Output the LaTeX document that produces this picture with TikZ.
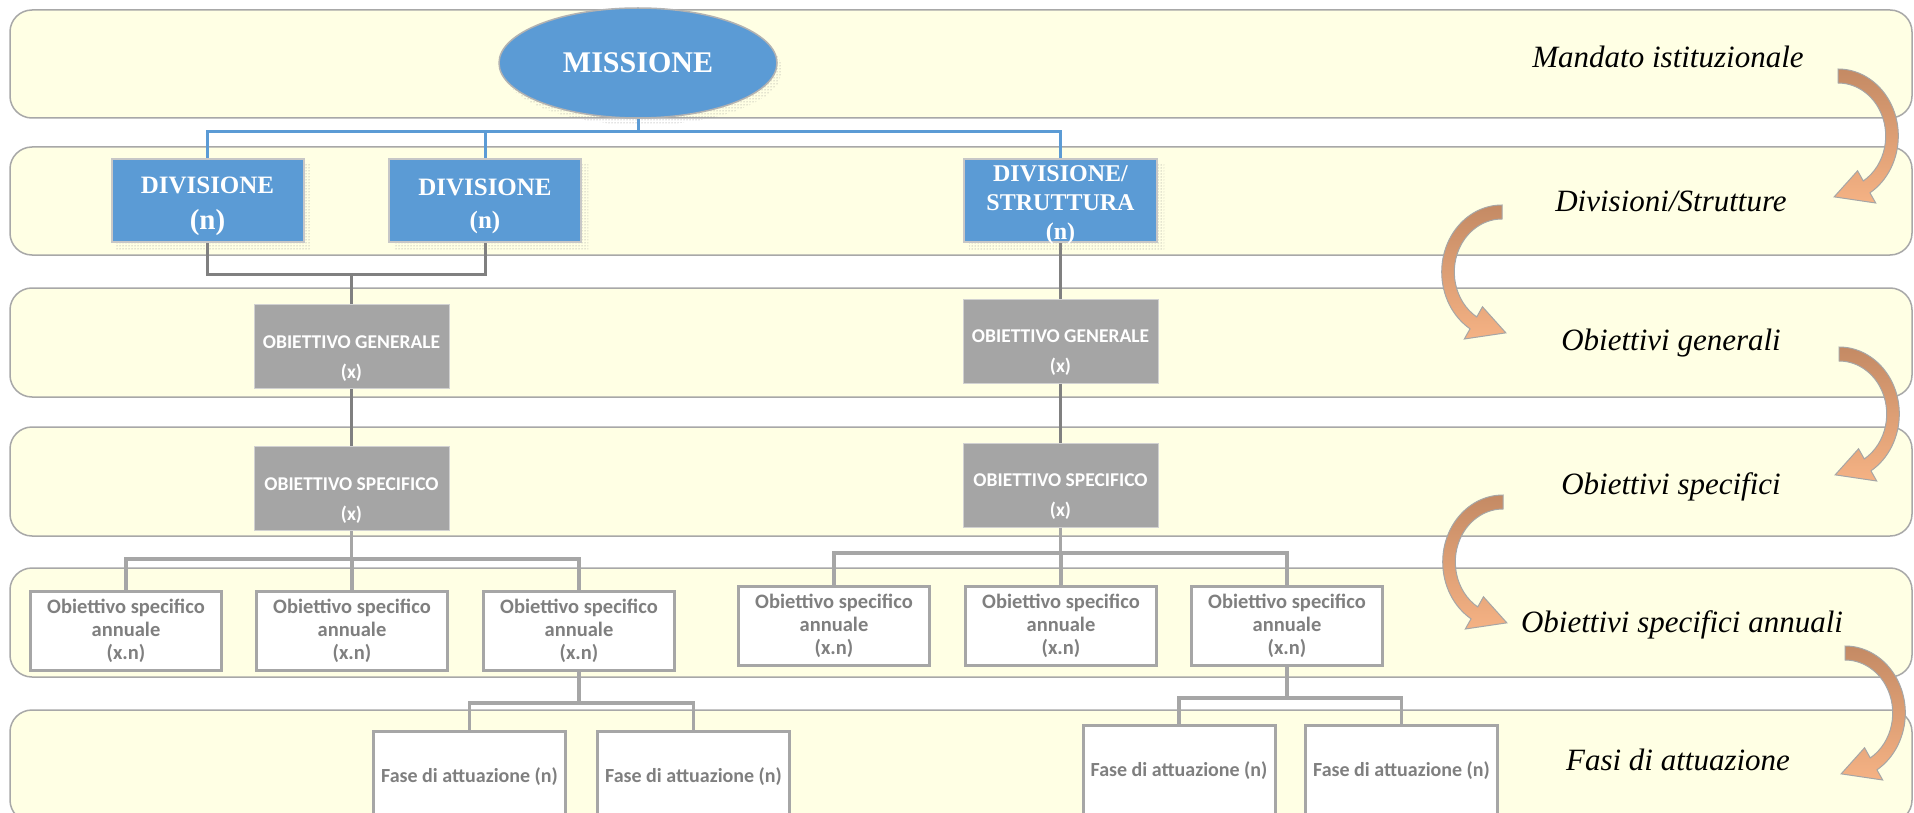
\documentclass[tikz,border=0pt]{standalone}
\usepackage{fontspec}
\setmainfont{Liberation Serif}
\newfontfamily\carlito{Carlito}
\usetikzlibrary{shapes.geometric,patterns}
\definecolor{bandfill}{RGB}{255,255,228}
\definecolor{bandline}{RGB}{168,168,168}
\definecolor{blu}{RGB}{91,155,213}
\definecolor{boxgray}{RGB}{165,165,165}
\definecolor{darkconn}{RGB}{128,128,128}
\definecolor{lightconn}{RGB}{166,166,166}
\definecolor{txtgray}{RGB}{127,127,127}
\definecolor{arrdark}{RGB}{196,138,100}
\definecolor{arrlight}{RGB}{245,178,132}
\pgfdeclarelayer{back}
\pgfdeclarelayer{shad}
\pgfsetlayers{back,shad,main}
\begin{document}
\begin{tikzpicture}[x=1pt,y=1pt,
  band/.style={draw=bandline, line width=1.5pt, fill=bandfill, rounded corners=22pt},
  ellip/.style={ellipse, fill=blu, draw=black!30, line width=1.5pt, text=white,
    minimum width=278pt, minimum height=110pt, inner sep=0pt,
    font=\bfseries\fontsize{30}{36}\selectfont},
  bluebox/.style={rectangle, fill=blu, draw=black!22, line width=2pt,
    inner sep=0pt, minimum height=83pt},
  bluetext/.style={text=white, align=center, inner sep=0pt,
    font=\bfseries\fontsize{25}{30}\selectfont},
  graybox/.style={rectangle, fill=boxgray, draw=black!18, line width=1pt,
    minimum width=195pt, minimum height=84pt, inner sep=0pt},
  graytext/.style={text=white, align=center, inner sep=0pt,
    font=\carlito\bfseries\fontsize{19.5}{30}\selectfont},
  annbox/.style={rectangle, fill=white, draw=lightconn, line width=3pt, text=txtgray,
    align=center, inner sep=0pt, minimum width=191pt, minimum height=79pt,
    font=\carlito\bfseries\fontsize{20.5}{23}\selectfont},
  fasebox/.style={rectangle, fill=white, draw=lightconn, line width=3pt, text=txtgray,
    align=center, inner sep=0pt, minimum width=192pt, minimum height=92pt,
    font=\carlito\bfseries\fontsize{20}{24}\selectfont},
  lab/.style={inner sep=0pt, font=\itshape\fontsize{31}{36}\selectfont},
  blueconn/.style={draw=blu, line width=3pt},
  darkline/.style={draw=darkconn, line width=3pt},
  lightline/.style={draw=lightconn, line width=3.5pt},
  shadowfill/.style={pattern=dots, pattern color=black!45},
  rarrow/.pic={
    \shade[top color=arrdark, bottom color=arrlight, draw=black!35, line width=1pt, xscale=0.9]
      (90:67) arc[start angle=90, end angle=-58, radius=67] -- (-58:79)
      -- (-94:61) -- (-58:41) -- (-58:53)
      arc[start angle=-58, end angle=90, radius=53] -- cycle;
  }
]
\useasboundingbox (0,0) rectangle (1914,-813);
\clip (0,0) rectangle (1914,-813);

\begin{pgfonlayer}{back}
  \fill[white] (0,0) rectangle (1914,-813);
  \foreach \t/\b in {10/118, 147/255, 288/397, 427/536, 568/677, 710/822}
    \draw[band] (10,-\t) rectangle (1912,-\b);
\end{pgfonlayer}

% top level
\node[ellip] (miss) at (638,-63) {MISSIONE};
\node[bluebox, minimum width=192pt] (div1) at (207.5,-200.5) {};
\node[bluetext] (div1t) at ([yshift=-6pt]div1.center)
  {DIVISIONE\\[6pt]{\fontsize{29}{32}\selectfont(n)}};
\node[bluebox, minimum width=192pt] (div2) at (485,-200.5) {};
\node[bluetext] (div2t) at ([yshift=-6pt]div2.center)
  {DIVISIONE\\[3pt]{\fontsize{25}{30}\selectfont(n)}};
\node[bluebox, minimum width=193pt] (div3) at (1060.5,-200.5) {};
\node[bluetext, font=\bfseries\fontsize{24}{29}\selectfont] (div3t) at ([yshift=-5pt]div3.center)
  {DIVISIONE/\\STRUTTURA\\(n)};

% objectives
\node[graybox] (og1) at (351.5,-346.5) {};
\node[graytext] (og1t) at ([yshift=-12pt]og1.center) {OBIETTIVO GENERALE\\(x)};
\node[graybox] (os1) at (351.5,-488.5) {};
\node[graytext] (os1t) at ([yshift=-12pt]os1.center) {OBIETTIVO SPECIFICO\\(x)};
\node[graybox] (og2) at (1060.5,-341) {};
\node[graytext] (og2t) at ([yshift=-12pt]og2.center) {OBIETTIVO GENERALE\\(x)};
\node[graybox] (os2) at (1060.5,-485) {};
\node[graytext] (os2t) at ([yshift=-12pt]os2.center) {OBIETTIVO SPECIFICO\\(x)};

% annual
\node[annbox] (a1) at (126,-631) {Obiettivo specifico\\annuale\\(x.n)};
\node[annbox] (a2) at (352,-631) {Obiettivo specifico\\annuale\\(x.n)};
\node[annbox] (a3) at (579,-631) {Obiettivo specifico\\annuale\\(x.n)};
\node[annbox] (b1) at (834,-626) {Obiettivo specifico\\annuale\\(x.n)};
\node[annbox] (b2) at (1061,-626) {Obiettivo specifico\\annuale\\(x.n)};
\node[annbox] (b3) at (1287,-626) {Obiettivo specifico\\annuale\\(x.n)};

% phases
\node[fasebox] (f1) at (469.5,-777) {Fase di attuazione (n)};
\node[fasebox] (f2) at (693.5,-777) {Fase di attuazione (n)};
\node[fasebox] (f3) at (1179,-771) {Fase di attuazione (n)};
\node[fasebox] (f4) at (1401.5,-771) {Fase di attuazione (n)};

% shadows
\begin{pgfonlayer}{shad}
  \foreach \n in {div1,div2,div3}
    \fill[shadowfill] ([shift={(6,-7)}]\n.south west) rectangle ([shift={(6,-7)}]\n.north east);
  \fill[shadowfill] ([shift={(5,-7)}]miss.center) ellipse[x radius=139, y radius=55];
\end{pgfonlayer}

% connectors
\coordinate (busA) at (0,-132);
\draw[blueconn] (miss.south) -- (miss.south |- busA);
\draw[blueconn] (div1.north) |- (div3.north |- busA) -- (div3.north);
\draw[blueconn] (div2.north) -- (div2.north |- busA);

\coordinate (busB) at (0,-274);
\draw[darkline] (div1.south) |- (div2.south |- busB) -- (div2.south);
\draw[darkline] (og1.north) -- (og1.north |- busB);
\draw[darkline] (og1.south) -- (os1.north);
\draw[darkline] (div3.south) -- (og2.north);
\draw[darkline] (og2.south) -- (os2.north);

\coordinate (busC) at (0,-559);
\draw[lightline] (os1.south) -- (os1.south |- busC);
\draw[lightline] (a1.north) |- (a3.north |- busC) -- (a3.north);
\draw[lightline] (a2.north) -- (a2.north |- busC);

\coordinate (busD) at (0,-553);
\draw[lightline] (os2.south) -- (os2.south |- busD);
\draw[lightline] (b1.north) |- (b3.north |- busD) -- (b3.north);
\draw[lightline] (b2.north) -- (b2.north |- busD);

\coordinate (busE) at (0,-703);
\draw[lightline] (a3.south) -- (a3.south |- busE);
\draw[lightline] (f1.north) |- (f2.north |- busE) -- (f2.north);

\coordinate (busF) at (0,-698);
\draw[lightline] (b3.south) -- (b3.south |- busF);
\draw[lightline] (f3.north) |- (f4.north |- busF) -- (f4.north);

% labels
\node[lab] (l1) at (1668,-57) {Mandato istituzionale};
\node[lab] (l2) at (1671,-201) {Divisioni/Strutture};
\node[lab] (l3) at (1671,-343) {Obiettivi generali};
\node[lab] (l4) at (1671,-487) {Obiettivi specifici};
\node[lab] (l5) at (1682,-625) {Obiettivi specifici annuali};
\node[lab] (l6) at (1678,-760) {Fasi di attuazione};

% curved arrows
\pic at (1838,-136) {rarrow};
\pic at (1839,-414) {rarrow};
\pic at (1845,-713) {rarrow};
\pic[xscale=-1] at (1502,-272) {rarrow};
\pic[xscale=-1] at (1503,-562) {rarrow};
\end{tikzpicture}
\end{document}
